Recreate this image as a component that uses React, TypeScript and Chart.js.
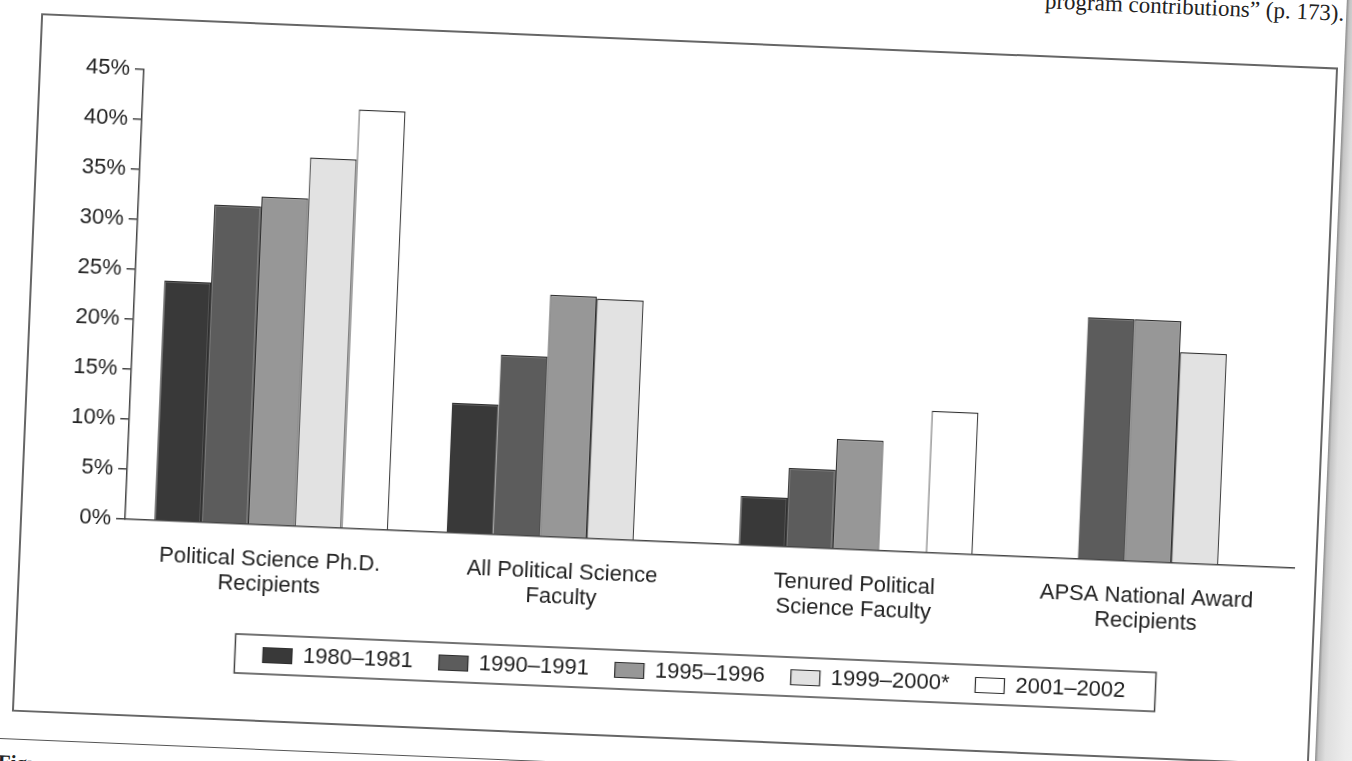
import React, { useEffect, useRef } from "react";
import { Chart, registerables } from "chart.js";

Chart.register(...registerables);

// ---- data ----
const categories: string[][] = [
  ["Political Science Ph.D.", "Recipients"],
  ["All Political Science", "Faculty"],
  ["Tenured Political", "Science Faculty"],
  ["APSA National Award", "Recipients"],
];
const seriesNames = ["1980–1981", "1990–1991", "1995–1996", "1999–2000*", "2001–2002"];
const s1980_81 = [24.0, 13.0, 4.9, null];
const s1990_91 = [31.8, 18.0, 7.9, 24.2];
const s1995_96 = [32.8, 24.2, 11.0, 24.2];
const s1999_00 = [36.9, 24.0, null, 21.1];
const s2001_02 = [41.9, null, 14.2, null];
const seriesValues = [s1980_81, s1990_91, s1995_96, s1999_00, s2001_02];
const seriesColors = ["#393939", "#5c5c5c", "#979797", "#e2e2e2", "#ffffff"];
const yMin = 0;
const yMax = 45;
const yStep = 5;

const FONT = "'Liberation Sans', Arial, Helvetica, sans-serif";

// nudges the legend box to the right, like the boxed legend of the original figure
const legendShift = {
  id: "legendShift",
  afterLayout(chart: any) {
    const lg = chart.legend;
    if (!lg) return;
    lg.left += 20;
    lg.right += 20;
  },
};

const legendFrame = {
  id: "legendFrame",
  afterDraw(chart: any) {
    const lg = chart.legend;
    const hb = lg && lg.legendHitBoxes;
    if (!hb || !hb.length) return;
    const l = Math.min(...hb.map((h: any) => h.left));
    const r = Math.max(...hb.map((h: any) => h.left + h.width));
    const t = Math.min(...hb.map((h: any) => h.top));
    const b = Math.max(...hb.map((h: any) => h.top + h.height));
    const ctx = chart.ctx;
    ctx.save();
    ctx.strokeStyle = "#444";
    ctx.lineWidth = 1.5;
    ctx.strokeRect(l - 28, t - 9, r - l + 28 + 30, b - t + 17);
    ctx.restore();
  },
};

function BarChart() {
  const ref = useRef<HTMLCanvasElement | null>(null);
  useEffect(() => {
    if (!ref.current) return;
    const chart = new Chart(ref.current, {
      type: "bar",
      data: {
        labels: categories,
        datasets: seriesNames.map((name, i) => ({
          label: name,
          data: seriesValues[i],
          backgroundColor: seriesColors[i],
          borderColor: "#2e2e2e",
          borderWidth: 1.2,
          categoryPercentage: 0.8,
          barPercentage: 1.0,
        })),
      },
      options: {
        animation: false,
        responsive: false,
        maintainAspectRatio: false,
        layout: { padding: { top: 50, left: 43, right: 21, bottom: 44 } },
        plugins: {
          legend: {
            position: "bottom",
            labels: {
              boxWidth: 29,
              boxHeight: 15,
              padding: 26,
              color: "#222",
              font: { family: FONT, size: 22 },
            },
          },
          tooltip: { enabled: false },
        },
        scales: {
          x: {
            grid: { display: false, drawTicks: false },
            border: { display: true, color: "#444", width: 1.5 },
            ticks: {
              padding: 22,
              color: "#222",
              maxRotation: 0,
              autoSkip: false,
              font: { family: FONT, size: 22, lineHeight: 1.15 },
            },
            afterFit: (s: any) => {
              s.height = 93;
            },
          },
          y: {
            min: yMin,
            max: yMax,
            grid: {
              drawOnChartArea: false,
              drawTicks: true,
              tickLength: 9,
              color: "#444",
              lineWidth: 1.5,
            },
            border: { display: true, color: "#444", width: 1.5 },
            ticks: {
              stepSize: yStep,
              padding: 5,
              color: "#222",
              font: { family: FONT, size: 22 },
              callback: (v: any) => `${v}%`,
            },
            afterFit: (s: any) => {
              s.width = 60;
            },
          },
        },
      },
      plugins: [legendShift, legendFrame],
    });
    return () => chart.destroy();
  }, []);
  return <canvas ref={ref} width={1294} height={695} style={{ display: "block", width: 1294, height: 695 }} />;
}

export default function App() {
  return (
    <div
      style={{
        position: "fixed",
        left: 0,
        top: 0,
        width: 1352,
        height: 761,
        overflow: "hidden",
        background: "#fff",
      }}
    >
      <div
        style={{
          position: "absolute",
          left: 0,
          top: 0,
          width: 1352,
          height: 761,
          transform: "rotate(2.4deg)",
          transformOrigin: "673px 389px",
        }}
      >
        <div
          style={{
            position: "absolute",
            right: 24,
            top: -25,
            fontFamily: "'Liberation Serif', 'Times New Roman', serif",
            fontSize: 23,
            lineHeight: "22px",
            color: "#222",
            whiteSpace: "nowrap",
          }}
        >
          program contributions” (p. 173).
        </div>
        <div
          style={{
            position: "absolute",
            left: 26,
            top: 40,
            width: 1298,
            height: 699,
            boxSizing: "border-box",
            border: "2px solid #666",
            background: "#fff",
          }}
        >
          <BarChart />
        </div>
        <div
          style={{
            position: "absolute",
            left: -60,
            top: 766,
            width: 1450,
            height: 0,
            borderTop: "1.5px solid #555",
          }}
        />
        <div
          style={{
            position: "absolute",
            left: 14,
            top: 778,
            fontFamily: "'Liberation Serif', 'Times New Roman', serif",
            fontWeight: "bold",
            fontSize: 21,
            color: "#222",
            whiteSpace: "nowrap",
          }}
        >
          Figure
        </div>
        <div
          style={{
            position: "absolute",
            left: 1330,
            top: -40,
            width: 60,
            height: 860,
            background:
              "linear-gradient(to right, #8a8a8a 0px, #c4c4c4 3px, #dedede 10px, #ececec 30px, #f4f4f4 100%)",
          }}
        />
      </div>
    </div>
  );
}
